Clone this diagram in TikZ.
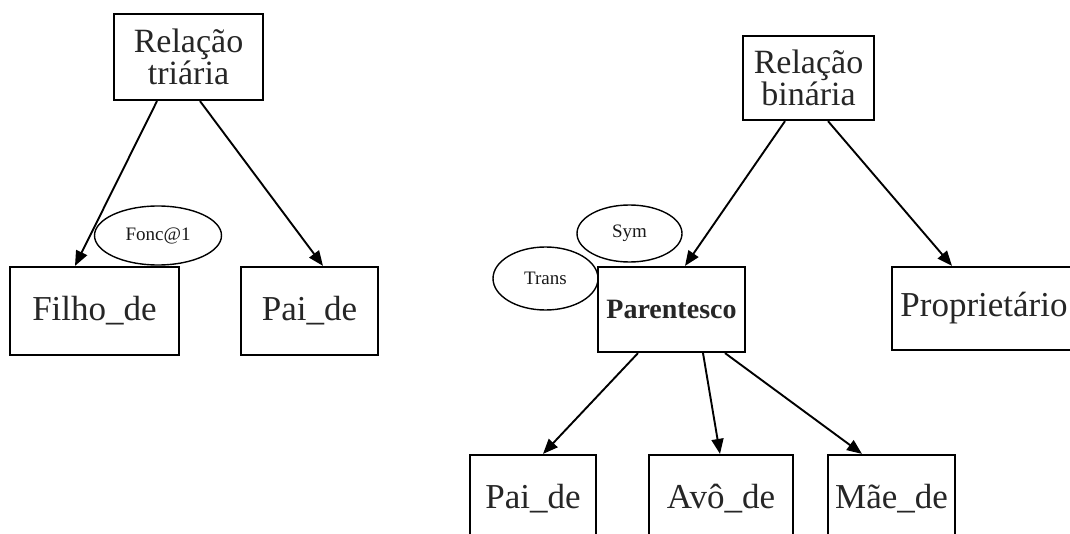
\documentclass[tikz,border=0pt]{standalone}
\usepackage{fontspec}
\setmainfont{Liberation Serif}
\usetikzlibrary{arrows.meta,shapes.geometric}
\begin{document}
\begin{tikzpicture}[x=1pt,y=-1pt,
  box/.style={draw=black,line width=2.2pt,rectangle,inner sep=0pt,
    text=black!85,align=center,font=\fontsize{35}{37}\selectfont},
  topbox/.style={box,font=\fontsize{34}{35}\selectfont},
  tag/.style={draw=black,line width=1.4pt,ellipse,inner sep=0pt,
    text=black!90,font=\fontsize{19}{21}\selectfont},
  link/.style={line width=1.9pt,-{Triangle[length=15pt,width=12pt]}}]
\useasboundingbox (0,0) rectangle (1070,534);

% left tree
\node[topbox,minimum width=149pt,minimum height=86pt] (rt) at (188.5,57)
  {Relação\\[-3pt]triária};
\node[box,minimum width=169pt,minimum height=88pt] (filho) at (94.5,311) {Filho\_de};
\node[box,minimum width=137pt,minimum height=88pt] (paiL) at (309.5,311) {Pai\_de};
\node[tag,minimum width=127pt,minimum height=59pt] (fonc) at (158,235.5) {Fonc@1};

\draw[link] ([xshift=-31.5pt]rt.south) -- ([xshift=-19.5pt]filho.north);
\draw[link] ([xshift=11.5pt]rt.south) -- ([xshift=13.5pt]paiL.north);

% right tree
\node[topbox,minimum width=131pt,minimum height=84pt] (rb) at (808.5,78)
  {Relação\\[-3pt]binária};
\node[box,minimum width=147pt,minimum height=85pt,
  font=\bfseries\fontsize{28}{30}\selectfont] (paren) at (671.5,309.5) {Parentesco};
\node[box,minimum width=184pt,minimum height=83pt] (prop) at (984,308.5) {Proprietário};
\node[tag,minimum width=105pt,minimum height=57pt] (sym) at (629.5,233.5) {Sym};
\node[tag,minimum width=105pt,minimum height=63pt] (trans) at (545.5,278.5) {Trans};

\node[box,minimum width=126pt,minimum height=88pt] (paiR) at (533,499) {Pai\_de};
\node[box,minimum width=144pt,minimum height=88pt] (avo) at (721,499) {Avô\_de};
\node[box,minimum width=127pt,minimum height=88pt] (mae) at (891.5,499) {Mãe\_de};

\draw[link] ([xshift=-23.5pt]rb.south) -- ([xshift=13.5pt]paren.north);
\draw[link] ([xshift=19.5pt]rb.south) -- ([xshift=-32pt]prop.north);
\draw[link] ([xshift=-33.5pt]paren.south) -- ([xshift=10pt]paiR.north);
\draw[link] ([xshift=31.5pt]paren.south) -- ([xshift=-1pt]avo.north);
\draw[link] ([xshift=53.5pt]paren.south) -- ([xshift=-29.5pt]mae.north);
\end{tikzpicture}
\end{document}
